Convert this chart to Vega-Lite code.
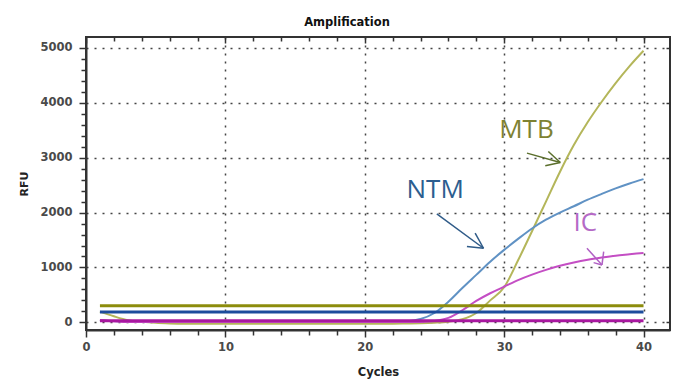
{
  "$schema": "https://vega.github.io/schema/vega-lite/v6.json",
  "width": 584,
  "height": 293,
  "autosize": {"type": "none"},
  "padding": {"left": 86, "top": 37, "right": 10, "bottom": 58},
  "background": "white",
  "title": {"text": "Amplification", "font": "DejaVu Sans", "fontSize": 11.5, "fontWeight": "bold", "color": "#111", "anchor": "middle", "dx": -31, "offset": 8},
  "config": {"view": {"stroke": "#333", "strokeWidth": 2}},
  "datasets": {
    "curves": [
      {"target": "MTB", "cycle": 1, "rfu": 195}, {"target": "MTB", "cycle": 2, "rfu": 110}, {"target": "MTB", "cycle": 3, "rfu": 40}, {"target": "MTB", "cycle": 4, "rfu": 10}, {"target": "MTB", "cycle": 5, "rfu": -10},
      {"target": "MTB", "cycle": 6, "rfu": -20}, {"target": "MTB", "cycle": 7, "rfu": -25}, {"target": "MTB", "cycle": 8, "rfu": -25}, {"target": "MTB", "cycle": 9, "rfu": -25}, {"target": "MTB", "cycle": 10, "rfu": -25},
      {"target": "MTB", "cycle": 11, "rfu": -25}, {"target": "MTB", "cycle": 12, "rfu": -25}, {"target": "MTB", "cycle": 13, "rfu": -25}, {"target": "MTB", "cycle": 14, "rfu": -25}, {"target": "MTB", "cycle": 15, "rfu": -25},
      {"target": "MTB", "cycle": 16, "rfu": -25}, {"target": "MTB", "cycle": 17, "rfu": -25}, {"target": "MTB", "cycle": 18, "rfu": -25}, {"target": "MTB", "cycle": 19, "rfu": -25}, {"target": "MTB", "cycle": 20, "rfu": -25},
      {"target": "MTB", "cycle": 21, "rfu": -25}, {"target": "MTB", "cycle": 22, "rfu": -25}, {"target": "MTB", "cycle": 23, "rfu": -22}, {"target": "MTB", "cycle": 24, "rfu": -18}, {"target": "MTB", "cycle": 25, "rfu": -8},
      {"target": "MTB", "cycle": 26, "rfu": 10}, {"target": "MTB", "cycle": 27, "rfu": 55}, {"target": "MTB", "cycle": 28, "rfu": 170}, {"target": "MTB", "cycle": 29, "rfu": 400}, {"target": "MTB", "cycle": 30, "rfu": 640},
      {"target": "MTB", "cycle": 31, "rfu": 1130}, {"target": "MTB", "cycle": 32, "rfu": 1660}, {"target": "MTB", "cycle": 33, "rfu": 2200}, {"target": "MTB", "cycle": 34, "rfu": 2740}, {"target": "MTB", "cycle": 35, "rfu": 3230},
      {"target": "MTB", "cycle": 36, "rfu": 3650}, {"target": "MTB", "cycle": 37, "rfu": 4020}, {"target": "MTB", "cycle": 38, "rfu": 4360}, {"target": "MTB", "cycle": 39, "rfu": 4670}, {"target": "MTB", "cycle": 40, "rfu": 4950},
      {"target": "NTM", "cycle": 1, "rfu": 40}, {"target": "NTM", "cycle": 2, "rfu": 25}, {"target": "NTM", "cycle": 3, "rfu": 15}, {"target": "NTM", "cycle": 4, "rfu": 5}, {"target": "NTM", "cycle": 5, "rfu": 5},
      {"target": "NTM", "cycle": 6, "rfu": 5}, {"target": "NTM", "cycle": 7, "rfu": 5}, {"target": "NTM", "cycle": 8, "rfu": 5}, {"target": "NTM", "cycle": 9, "rfu": 5}, {"target": "NTM", "cycle": 10, "rfu": 5},
      {"target": "NTM", "cycle": 11, "rfu": 5}, {"target": "NTM", "cycle": 12, "rfu": 5}, {"target": "NTM", "cycle": 13, "rfu": 5}, {"target": "NTM", "cycle": 14, "rfu": 5}, {"target": "NTM", "cycle": 15, "rfu": 5},
      {"target": "NTM", "cycle": 16, "rfu": 5}, {"target": "NTM", "cycle": 17, "rfu": 5}, {"target": "NTM", "cycle": 18, "rfu": 5}, {"target": "NTM", "cycle": 19, "rfu": 5}, {"target": "NTM", "cycle": 20, "rfu": 5},
      {"target": "NTM", "cycle": 21, "rfu": 5}, {"target": "NTM", "cycle": 22, "rfu": 8}, {"target": "NTM", "cycle": 23, "rfu": 20}, {"target": "NTM", "cycle": 24, "rfu": 60}, {"target": "NTM", "cycle": 25, "rfu": 170},
      {"target": "NTM", "cycle": 26, "rfu": 375}, {"target": "NTM", "cycle": 27, "rfu": 625}, {"target": "NTM", "cycle": 28, "rfu": 865}, {"target": "NTM", "cycle": 29, "rfu": 1105}, {"target": "NTM", "cycle": 30, "rfu": 1320},
      {"target": "NTM", "cycle": 31, "rfu": 1520}, {"target": "NTM", "cycle": 32, "rfu": 1710}, {"target": "NTM", "cycle": 33, "rfu": 1870}, {"target": "NTM", "cycle": 34, "rfu": 2000}, {"target": "NTM", "cycle": 35, "rfu": 2115},
      {"target": "NTM", "cycle": 36, "rfu": 2235}, {"target": "NTM", "cycle": 37, "rfu": 2340}, {"target": "NTM", "cycle": 38, "rfu": 2440}, {"target": "NTM", "cycle": 39, "rfu": 2530}, {"target": "NTM", "cycle": 40, "rfu": 2610},
      {"target": "IC", "cycle": 1, "rfu": 40}, {"target": "IC", "cycle": 2, "rfu": 20}, {"target": "IC", "cycle": 3, "rfu": 5}, {"target": "IC", "cycle": 4, "rfu": 5}, {"target": "IC", "cycle": 5, "rfu": 5},
      {"target": "IC", "cycle": 6, "rfu": 5}, {"target": "IC", "cycle": 7, "rfu": 5}, {"target": "IC", "cycle": 8, "rfu": 5}, {"target": "IC", "cycle": 9, "rfu": 5}, {"target": "IC", "cycle": 10, "rfu": 5},
      {"target": "IC", "cycle": 11, "rfu": 5}, {"target": "IC", "cycle": 12, "rfu": 5}, {"target": "IC", "cycle": 13, "rfu": 5}, {"target": "IC", "cycle": 14, "rfu": 5}, {"target": "IC", "cycle": 15, "rfu": 5},
      {"target": "IC", "cycle": 16, "rfu": 5}, {"target": "IC", "cycle": 17, "rfu": 5}, {"target": "IC", "cycle": 18, "rfu": 5}, {"target": "IC", "cycle": 19, "rfu": 5}, {"target": "IC", "cycle": 20, "rfu": 5},
      {"target": "IC", "cycle": 21, "rfu": 5}, {"target": "IC", "cycle": 22, "rfu": 5}, {"target": "IC", "cycle": 23, "rfu": 5}, {"target": "IC", "cycle": 24, "rfu": 8}, {"target": "IC", "cycle": 25, "rfu": 25},
      {"target": "IC", "cycle": 26, "rfu": 80}, {"target": "IC", "cycle": 27, "rfu": 220}, {"target": "IC", "cycle": 28, "rfu": 390}, {"target": "IC", "cycle": 29, "rfu": 530}, {"target": "IC", "cycle": 30, "rfu": 650},
      {"target": "IC", "cycle": 31, "rfu": 770}, {"target": "IC", "cycle": 32, "rfu": 870}, {"target": "IC", "cycle": 33, "rfu": 955}, {"target": "IC", "cycle": 34, "rfu": 1030}, {"target": "IC", "cycle": 35, "rfu": 1090},
      {"target": "IC", "cycle": 36, "rfu": 1140}, {"target": "IC", "cycle": 37, "rfu": 1180}, {"target": "IC", "cycle": 38, "rfu": 1215}, {"target": "IC", "cycle": 39, "rfu": 1240}, {"target": "IC", "cycle": 40, "rfu": 1265}
    ],
    "thresholds": [
      {"thr": "MTB", "cycle": 1, "rfu": 300}, {"thr": "MTB", "cycle": 40, "rfu": 300},
      {"thr": "NTM", "cycle": 1, "rfu": 190}, {"thr": "NTM", "cycle": 40, "rfu": 190},
      {"thr": "IC", "cycle": 1, "rfu": 30}, {"thr": "IC", "cycle": 40, "rfu": 30}
    ],
    "arrows": [
      {"arrow": "MTB", "x": 31.64, "y": 3084, "x2": 34.03, "y2": 2912},
      {"arrow": "MTB", "x": 33.17, "y": 3113, "x2": 34.03, "y2": 2912},
      {"arrow": "MTB", "x": 32.95, "y": 2852, "x2": 34.03, "y2": 2912},
      {"arrow": "NTM", "x": 25.17, "y": 1976, "x2": 28.52, "y2": 1350},
      {"arrow": "NTM", "x": 27.92, "y": 1624, "x2": 28.52, "y2": 1350},
      {"arrow": "NTM", "x": 27.33, "y": 1380, "x2": 28.52, "y2": 1350},
      {"arrow": "IC", "x": 35.94, "y": 1350, "x2": 37.02, "y2": 1046},
      {"arrow": "IC", "x": 37.14, "y": 1288, "x2": 37.02, "y2": 1046},
      {"arrow": "IC", "x": 36.42, "y": 1088, "x2": 37.02, "y2": 1046}
    ],
    "labels": [
      {"name": "MTB", "cycle": 31.6, "rfu": 3509},
      {"name": "NTM", "cycle": 25.05, "rfu": 2414},
      {"name": "IC", "cycle": 35.82, "rfu": 1812}
    ]
  },
  "layer": [
    {
      "data": {"name": "curves"},
      "mark": {"type": "line", "strokeWidth": 2, "interpolate": "monotone", "clip": true},
      "encoding": {
        "x": {"field": "cycle", "type": "quantitative", "scale": {"domain": [0, 41.9], "nice": false, "zero": false},
          "axis": {"title": "Cycles", "values": [0,2,4,6,8,10,12,14,16,18,20,22,24,26,28,30,32,34,36,38,40],
            "labelExpr": "datum.value % 10 === 0 ? datum.label : ''",
            "tickSize": {"condition": {"test": "datum.value % 10 === 0", "value": 7}, "value": 5},
            "tickColor": "#333", "tickWidth": 1.5, "domainColor": "#333", "domainWidth": 2,
            "labelFont": "DejaVu Sans", "labelFontSize": 11.5, "labelFontWeight": "bold", "labelColor": "#4a4a4a", "labelPadding": 4, "labelFlush": false,
            "grid": true, "gridOpacity": {"condition": {"test": "datum.value % 10 === 0 && datum.value > 0", "value": 1}, "value": 0},
            "gridDash": [2, 6], "gridColor": "#444", "gridWidth": 1.5,
            "titleFont": "DejaVu Sans", "titleFontSize": 11.5, "titleFontWeight": "bold", "titleColor": "#222", "titlePadding": 14}},
        "y": {"field": "rfu", "type": "quantitative", "scale": {"domain": [-140, 5200], "nice": false, "zero": false},
          "axis": {"title": "RFU", "format": "d", "values": [0,200,400,600,800,1000,1200,1400,1600,1800,2000,2200,2400,2600,2800,3000,3200,3400,3600,3800,4000,4200,4400,4600,4800,5000],
            "labelExpr": "datum.value % 1000 === 0 ? datum.label : ''",
            "tickSize": {"condition": {"test": "datum.value % 1000 === 0", "value": 7}, "value": 5},
            "tickColor": "#333", "tickWidth": 1.5, "domainColor": "#333", "domainWidth": 2,
            "labelFont": "DejaVu Sans", "labelFontSize": 11.5, "labelFontWeight": "bold", "labelColor": "#4a4a4a", "labelPadding": 7, "labelFlush": false,
            "grid": true, "gridOpacity": {"condition": {"test": "datum.value % 1000 === 0", "value": 1}, "value": 0},
            "gridDash": [2, 6], "gridColor": "#444", "gridWidth": 1.5,
            "titleFont": "DejaVu Sans", "titleFontSize": 11, "titleFontWeight": "bold", "titleColor": "#222", "titlePadding": 10}},
        "color": {"field": "target", "type": "nominal", "scale": {"domain": ["MTB", "NTM", "IC"], "range": ["#b4b65a", "#6092c4", "#c44ec4"]}, "legend": null}
      }
    },
    {
      "data": {"name": "thresholds"},
      "mark": {"type": "line", "strokeWidth": 3},
      "encoding": {
        "x": {"field": "cycle", "type": "quantitative",
          "axis": {"orient": "top", "values": [0,2,4,6,8,10,12,14,16,18,20,22,24,26,28,30,32,34,36,38,40], "labels": false, "title": null, "grid": false, "domain": false,
            "tickSize": {"condition": {"test": "datum.value % 10 === 0", "value": -6}, "value": -4}, "tickColor": "#333", "tickWidth": 1.5}},
        "y": {"field": "rfu", "type": "quantitative",
          "axis": {"orient": "right", "values": [0,1000,2000,3000,4000,5000], "labels": false, "title": null, "grid": false, "domain": false,
            "tickSize": -4, "tickColor": "#333", "tickWidth": 1.5}},
        "color": {"field": "thr", "type": "nominal", "scale": {"domain": ["MTB", "NTM", "IC"], "range": ["#8c8c0c", "#1c4c9c", "#a8189f"]}, "legend": null}
      }
    },
    {
      "data": {"name": "arrows"},
      "mark": {"type": "rule", "strokeWidth": 1.5},
      "encoding": {
        "x": {"field": "x", "type": "quantitative", "axis": null},
        "y": {"field": "y", "type": "quantitative", "axis": null},
        "x2": {"field": "x2"},
        "y2": {"field": "y2"},
        "color": {"field": "arrow", "type": "nominal", "scale": {"domain": ["MTB", "NTM", "IC"], "range": ["#5b6f2c", "#2f5b88", "#b060c4"]}, "legend": null}
      }
    },
    {
      "data": {"name": "labels"},
      "mark": {"type": "text", "font": "Open Sans", "fontSize": 26, "align": "center", "baseline": "middle"},
      "encoding": {
        "x": {"field": "cycle", "type": "quantitative", "axis": null},
        "y": {"field": "rfu", "type": "quantitative", "axis": null},
        "text": {"field": "name"},
        "color": {"field": "name", "type": "nominal", "scale": {"domain": ["MTB", "NTM", "IC"], "range": ["#7e8232", "#2c5e90", "#b56ac6"]}, "legend": null}
      }
    }
  ],
  "resolve": {"scale": {"color": "independent"}, "axis": {"x": "independent", "y": "independent"}}
}
